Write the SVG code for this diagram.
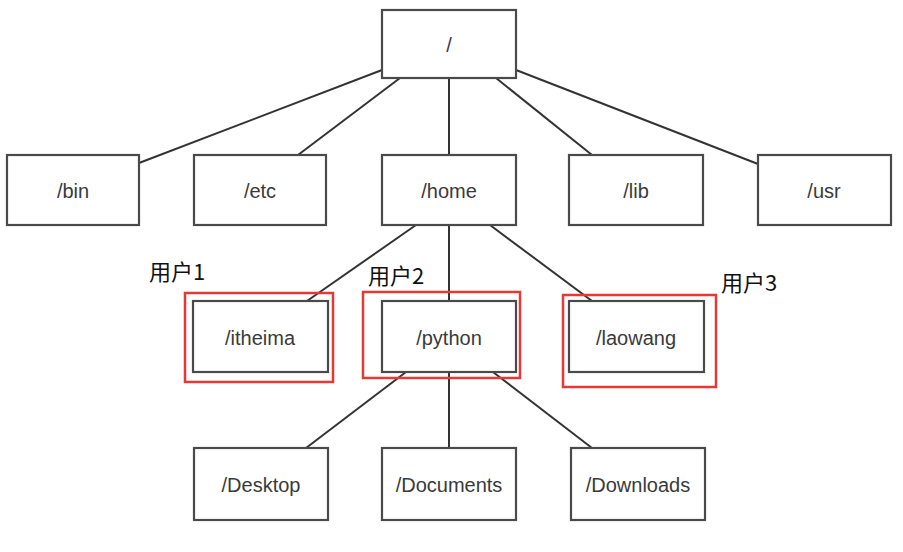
<svg xmlns="http://www.w3.org/2000/svg" width="903" height="552" viewBox="0 0 903 552">
<style>
.box{fill:#fff;stroke:#4a4a4a;stroke-width:2.2}
.lbl{font-family:"Liberation Sans","Noto Sans",Arial,sans-serif;font-size:20px;fill:#3a3a3a;text-anchor:middle;dominant-baseline:central}
.user{font-family:"Noto Sans CJK SC","Liberation Sans",sans-serif;font-size:22px;fill:#111}
.hl{fill:none;stroke:#e53935;stroke-width:2.5}
#connectors line{stroke:#333;stroke-width:2}
</style>
<rect width="903" height="552" fill="#fff"/>
<g id="connectors">
<line x1="382" y1="70" x2="139" y2="163"/>
<line x1="400" y1="78" x2="298" y2="155"/>
<line x1="449" y1="78" x2="449" y2="155"/>
<line x1="496" y1="78" x2="592" y2="155"/>
<line x1="516" y1="70" x2="758" y2="164"/>
<line x1="416" y1="225" x2="307" y2="301"/>
<line x1="449" y1="225" x2="449" y2="301"/>
<line x1="490" y1="225" x2="592" y2="301"/>
<line x1="406" y1="372" x2="306" y2="448"/>
<line x1="449" y1="372" x2="449" y2="448"/>
<line x1="493" y1="372" x2="592" y2="448"/>
</g>
<g id="root"><rect class="box" x="382" y="10" width="134" height="68"/><text class="lbl" x="449" y="45">/</text></g>
<g id="bin"><rect class="box" x="7" y="155" width="132" height="70"/><text class="lbl" x="73" y="191">/bin</text></g>
<g id="etc"><rect class="box" x="194" y="155" width="132" height="70"/><text class="lbl" x="260" y="191">/etc</text></g>
<g id="home"><rect class="box" x="382" y="155" width="134" height="70"/><text class="lbl" x="449" y="191">/home</text></g>
<g id="lib"><rect class="box" x="569" y="155" width="134" height="70"/><text class="lbl" x="636" y="191">/lib</text></g>
<g id="usr"><rect class="box" x="758" y="155" width="133" height="70"/><text class="lbl" x="824" y="191">/usr</text></g>
<g id="itheima"><rect class="box" x="193" y="301" width="135" height="71"/><text class="lbl" x="260" y="338">/itheima</text><rect class="hl" x="185" y="293" width="148" height="89"/><text class="user" x="149" y="280">用户1</text></g>
<g id="python"><rect class="box" x="382" y="301" width="134" height="71"/><text class="lbl" x="449" y="338">/python</text><rect class="hl" x="363" y="292" width="157" height="86"/><text class="user" x="368" y="284">用户2</text></g>
<g id="laowang"><rect class="box" x="569" y="301" width="135" height="71"/><text class="lbl" x="636" y="338">/laowang</text><rect class="hl" x="563" y="295" width="153" height="92"/><text class="user" x="721" y="291">用户3</text></g>
<g id="desktop"><rect class="box" x="194" y="448" width="134" height="72"/><text class="lbl" x="261" y="485">/Desktop</text></g>
<g id="documents"><rect class="box" x="382" y="448" width="134" height="72"/><text class="lbl" x="449" y="485">/Documents</text></g>
<g id="downloads"><rect class="box" x="571" y="448" width="134" height="72"/><text class="lbl" x="638" y="485">/Downloads</text></g>
</svg>
